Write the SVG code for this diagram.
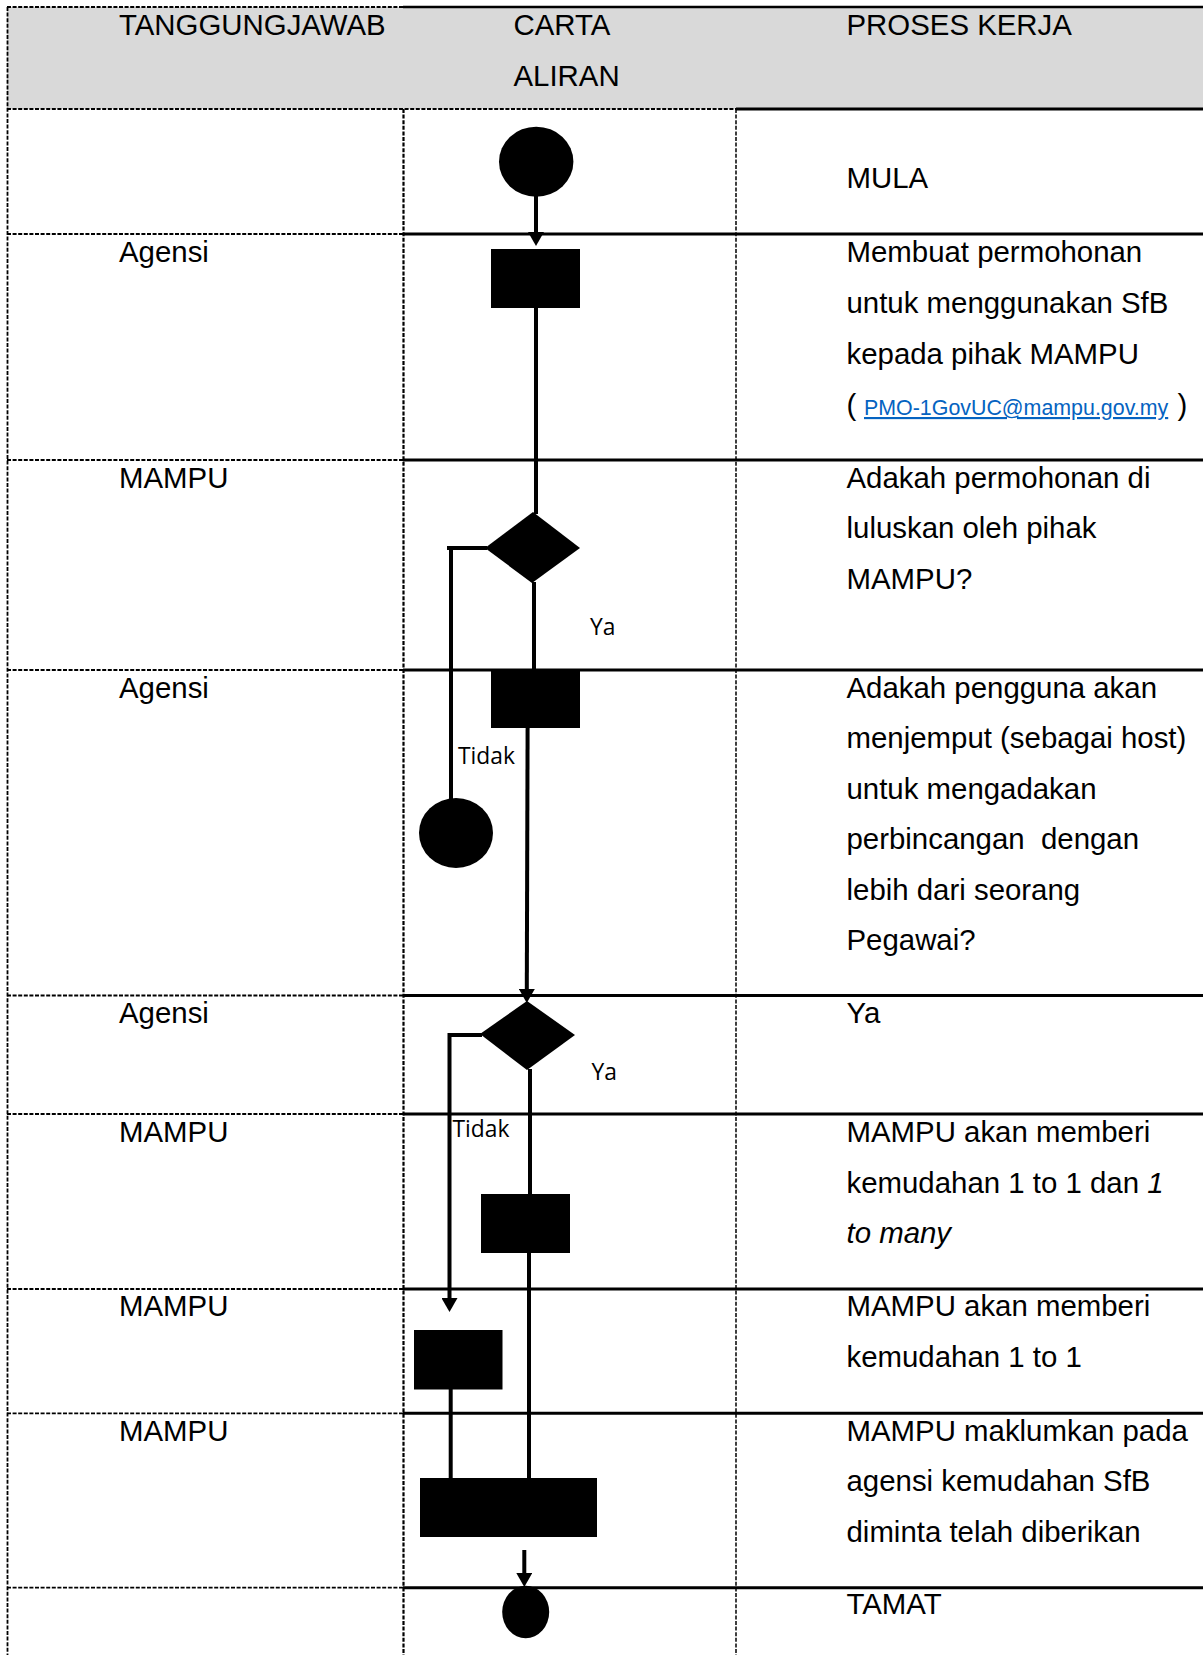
<svg xmlns="http://www.w3.org/2000/svg" width="1203" height="1655" viewBox="0 0 1203 1655">
<style>
.t{font-family:"Liberation Sans",Arial,sans-serif;font-size:29.4px;fill:#000;white-space:pre}
.lbl{font-family:"Open Sans","Noto Sans",sans-serif;font-size:22.8px;fill:#000}
.link{font-family:"Liberation Sans",Arial,sans-serif;font-size:21.4px;fill:#0563c1;text-decoration:underline}
.dash{stroke:#000;stroke-width:1.8;stroke-dasharray:4 1.6;fill:none}
.solid{stroke:#000;stroke-width:3;fill:none}
.conn{stroke:#000;stroke-width:4;fill:none}
.shape{fill:#000;stroke:none}
</style>
<defs>
<marker id="ah" markerUnits="userSpaceOnUse" markerWidth="14" markerHeight="16" viewBox="0 0 14 16" refX="0" refY="8" orient="auto">
<path d="M0,0 L14,8 L0,16 z" fill="#000"/>
</marker>
</defs>
<rect width="1203" height="1655" fill="#fff"/>
<g id="table">
<rect x="7" y="7" width="1196" height="102" fill="#d9d9d9"/>
<line class="dash" x1="7" y1="7" x2="403" y2="7"/>
<line class="solid" x1="403" y1="7" x2="1203" y2="7" style="stroke-width:2.5"/>
<line class="dash" x1="7" y1="109" x2="736" y2="109"/>
<line class="solid" x1="736" y1="109" x2="1203" y2="109"/>
<line class="dash" x1="7" y1="234" x2="403" y2="234"/>
<line class="solid" x1="403" y1="234" x2="1203" y2="234"/>
<line class="dash" x1="7" y1="460" x2="403" y2="460"/>
<line class="solid" x1="403" y1="460" x2="1203" y2="460"/>
<line class="dash" x1="7" y1="670" x2="403" y2="670"/>
<line class="solid" x1="403" y1="670" x2="1203" y2="670"/>
<line class="dash" x1="7" y1="995.5" x2="403" y2="995.5"/>
<line class="solid" x1="403" y1="995.5" x2="1203" y2="995.5"/>
<line class="dash" x1="7" y1="1114" x2="403" y2="1114"/>
<line class="solid" x1="403" y1="1114" x2="1203" y2="1114"/>
<line class="dash" x1="7" y1="1289" x2="403" y2="1289"/>
<line class="solid" x1="403" y1="1289" x2="1203" y2="1289"/>
<line class="dash" x1="7" y1="1413.3" x2="403" y2="1413.3"/>
<line class="solid" x1="403" y1="1413.3" x2="1203" y2="1413.3"/>
<line class="dash" x1="7" y1="1587.7" x2="403" y2="1587.7"/>
<line class="solid" x1="403" y1="1587.7" x2="1203" y2="1587.7"/>
<line class="dash" x1="7.5" y1="7" x2="7.5" y2="1655"/>
<line class="dash" x1="403.5" y1="109" x2="403.5" y2="1655" style="stroke-width:2.2"/>
<line class="dash" x1="736" y1="109" x2="736" y2="1655" style="stroke-width:1.5"/>
</g>
<g id="header-text">
<text class="t" x="119" y="35">TANGGUNGJAWAB</text>
<text class="t" x="513.5" y="35">CARTA</text>
<text class="t" x="513.5" y="86">ALIRAN</text>
<text class="t" x="846.5" y="35">PROSES KERJA</text>
</g>
<g id="col1-text">
<text class="t" x="119" y="262">Agensi</text>
<text class="t" x="119" y="487.5">MAMPU</text>
<text class="t" x="119" y="697.5">Agensi</text>
<text class="t" x="119" y="1022.5">Agensi</text>
<text class="t" x="119" y="1141.5">MAMPU</text>
<text class="t" x="119" y="1316">MAMPU</text>
<text class="t" x="119" y="1440.5">MAMPU</text>
</g>
<g id="col3-text">
<text class="t" x="846.5" y="187.5">MULA</text>
<text class="t" x="846.5" y="262">Membuat permohonan</text>
<text class="t" x="846.5" y="313">untuk menggunakan SfB</text>
<text class="t" x="846.5" y="364">kepada pihak MAMPU</text>
<text class="t" x="846.5" y="415">(</text>
<text class="link" x="864" y="415">PMO-1GovUC@mampu.gov.my</text>
<text class="t" x="1177.5" y="415">)</text>
<text class="t" x="846.5" y="487.5">Adakah permohonan di</text>
<text class="t" x="846.5" y="538">luluskan oleh pihak</text>
<text class="t" x="846.5" y="588.5">MAMPU?</text>
<text class="t" x="846.5" y="697.5">Adakah pengguna akan</text>
<text class="t" x="846.5" y="748">menjemput (sebagai host)</text>
<text class="t" x="846.5" y="798.5">untuk mengadakan</text>
<text class="t" x="846.5" y="849">perbincangan  dengan</text>
<text class="t" x="846.5" y="899.5">lebih dari seorang</text>
<text class="t" x="846.5" y="950">Pegawai?</text>
<text class="t" x="846.5" y="1022.5">Ya</text>
<text class="t" x="846.5" y="1141.5">MAMPU akan memberi</text>
<text class="t" x="846.5" y="1192.5">kemudahan 1 to 1 dan <tspan font-style="italic">1</tspan></text>
<text class="t" x="846.5" y="1243" font-style="italic">to many</text>
<text class="t" x="846.5" y="1316">MAMPU akan memberi</text>
<text class="t" x="846.5" y="1366.5">kemudahan 1 to 1</text>
<text class="t" x="846.5" y="1440.5">MAMPU maklumkan pada</text>
<text class="t" x="846.5" y="1491">agensi kemudahan SfB</text>
<text class="t" x="846.5" y="1541.5">diminta telah diberikan</text>
<text class="t" x="846.5" y="1613.5">TAMAT</text>
</g>
<g id="connectors">
<path class="conn" d="M536,196 V232" marker-end="url(#ah)"/>
<path class="conn" d="M536,308 V514"/>
<path class="conn" d="M487,548 H447 M451,546 V800"/>
<path class="conn" d="M534,582 V671"/>
<path class="conn" d="M527.6,728 L526.8,989" marker-end="url(#ah)"/>
<path class="conn" d="M482,1035 H447.5 M449.5,1033 V1298" marker-end="url(#ah)"/>
<path class="conn" d="M530,1069 V1195"/>
<path class="conn" d="M529,1252 V1479"/>
<path class="conn" d="M450.7,1388 V1479"/>
<path class="conn" d="M524.3,1550 V1573" marker-end="url(#ah)"/>
</g>
<g id="labels">
<text class="lbl" x="590" y="635">Ya</text>
<text class="lbl" x="458" y="764">Tidak</text>
<text class="lbl" x="591.5" y="1080">Ya</text>
<text class="lbl" x="452.5" y="1137">Tidak</text>
</g>
<g id="start"><ellipse class="shape" cx="536.2" cy="161.7" rx="37.2" ry="35"/></g>
<g id="request"><rect class="shape" x="491" y="249" width="89" height="59"/></g>
<g id="decision1"><polygon class="shape" points="485,548 533,512 580,548 532,583"/></g>
<g id="end-tidak"><ellipse class="shape" cx="456" cy="833" rx="37" ry="35"/></g>
<g id="host-step"><rect class="shape" x="491" y="670" width="89" height="58"/></g>
<g id="decision2"><polygon class="shape" points="480,1034 527,1001 575,1035 527,1070"/></g>
<g id="one-to-many"><rect class="shape" x="481" y="1194" width="89" height="59"/></g>
<g id="one-to-one"><rect class="shape" x="414" y="1330" width="88.5" height="59.5"/></g>
<g id="notify"><rect class="shape" x="420" y="1478" width="177" height="59"/></g>
<g id="end"><ellipse class="shape" cx="525.7" cy="1612" rx="23.5" ry="26.2"/></g>
</svg>
